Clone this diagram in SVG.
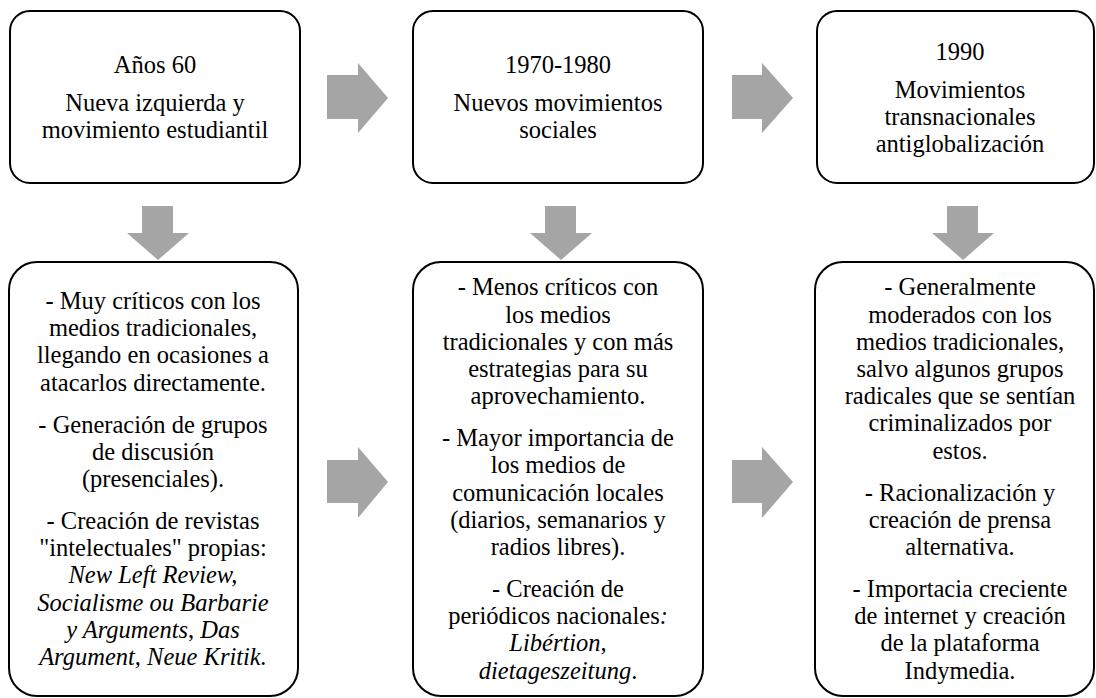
<svg xmlns="http://www.w3.org/2000/svg" width="1096" height="698" viewBox="0 0 1096 698">
<style>
.box{fill:#fff;stroke:#000;stroke-width:2}
.arr{fill:#A5A5A5}
text{font-family:"Liberation Serif","Times New Roman",serif;font-size:24.5px;fill:#000;text-anchor:middle}
.i{font-style:italic}
</style>
<rect width="1096" height="698" fill="#fff"/>
<g id="connectors">
<polygon class="arr" points="327,75 358,75 358,63 388,98 358,133 358,119 327,119"/>
<polygon class="arr" points="732,75 762,75 762,63 793,98 762,133 762,119 732,119"/>
<polygon class="arr" points="327,460 358,460 358,447 388,482 358,518 358,503 327,503"/>
<polygon class="arr" points="732,460 762,460 762,447 793,482 762,518 762,503 732,503"/>
<polygon class="arr" points="142,206 173,206 173,233 189,233 158,260 127,233 142,233"/>
<polygon class="arr" points="545,206 576,206 576,233 592,233 561,260 530,233 545,233"/>
<polygon class="arr" points="947,206 978,206 978,233 994,233 963,260 932,233 947,233"/>
</g>
<g id="n1">
<rect class="box" x="10" y="11" width="290" height="172" rx="20"/>
<text x="155" y="73">Años 60</text>
<text x="155" y="111">Nueva izquierda y<tspan x="155" dy="27.2">movimiento estudiantil</tspan></text>
</g>
<g id="n2">
<rect class="box" x="413" y="11" width="290" height="172" rx="20"/>
<text x="558" y="73">1970-1980</text>
<text x="558" y="111">Nuevos movimientos<tspan x="558" dy="27.2">sociales</tspan></text>
</g>
<g id="n3">
<rect class="box" x="817" y="11" width="277" height="172" rx="20"/>
<text x="960" y="60">1990</text>
<text x="960" y="98">Movimientos<tspan x="960" dy="27.2">transnacionales</tspan><tspan x="960" dy="27.2">antiglobalización</tspan></text>
</g>
<g id="n4">
<rect class="box" x="9" y="262" width="289" height="434" rx="28"/>
<text x="153" y="309">- Muy críticos con los<tspan x="153" dy="27.2">medios tradicionales,</tspan><tspan x="153" dy="27.2">llegando en ocasiones a</tspan><tspan x="153" dy="27.2">atacarlos directamente.</tspan></text>
<text x="153" y="432.6">- Generación de grupos<tspan x="153" dy="27.2">de discusión</tspan><tspan x="153" dy="27.2">(presenciales).</tspan></text>
<text x="153" y="529">- Creación de revistas<tspan x="153" dy="27.2">"intelectuales" propias:</tspan><tspan x="153" dy="27.2" class="i">New Left Review,</tspan><tspan x="153" dy="27.2" class="i">Socialisme ou Barbarie</tspan><tspan x="153" dy="27.2"><tspan class="i">y Arguments</tspan>, <tspan class="i">Das</tspan></tspan><tspan x="153" dy="27.2" class="i">Argument, Neue Kritik.</tspan></text>
</g>
<g id="n5">
<rect class="box" x="413" y="262" width="290" height="434" rx="28"/>
<text x="558" y="295.4">- Menos críticos con<tspan x="558" dy="27.2">los medios</tspan><tspan x="558" dy="27.2">tradicionales y con más</tspan><tspan x="558" dy="27.2">estrategias para su</tspan><tspan x="558" dy="27.2">aprovechamiento.</tspan></text>
<text x="558" y="446.2">- Mayor importancia de<tspan x="558" dy="27.2">los medios de</tspan><tspan x="558" dy="27.2">comunicación locales</tspan><tspan x="558" dy="27.2">(diarios, semanarios y</tspan><tspan x="558" dy="27.2">radios libres).</tspan></text>
<text x="558" y="597">- Creación de<tspan x="558" dy="27.2">periódicos nacionales<tspan class="i">:</tspan></tspan><tspan x="558" dy="27.2"><tspan class="i">Libértion</tspan>,</tspan><tspan x="558" dy="27.2"><tspan class="i">dietageszeitung</tspan>.</tspan></text>
</g>
<g id="n6">
<rect class="box" x="815" y="262" width="279" height="434" rx="28"/>
<text x="960" y="295.4">- Generalmente<tspan x="960" dy="27.2">moderados con los</tspan><tspan x="960" dy="27.2">medios tradicionales,</tspan><tspan x="960" dy="27.2">salvo algunos grupos</tspan><tspan x="960" dy="27.2">radicales que se sentían</tspan><tspan x="960" dy="27.2">criminalizados por</tspan><tspan x="960" dy="27.2">estos.</tspan></text>
<text x="960" y="500.6">- Racionalización y<tspan x="960" dy="27.2">creación de prensa</tspan><tspan x="960" dy="27.2">alternativa.</tspan></text>
<text x="960" y="597">- Importacia creciente<tspan x="960" dy="27.2">de internet y creación</tspan><tspan x="960" dy="27.2">de la plataforma</tspan><tspan x="960" dy="27.2">Indymedia.</tspan></text>
</g>
</svg>
